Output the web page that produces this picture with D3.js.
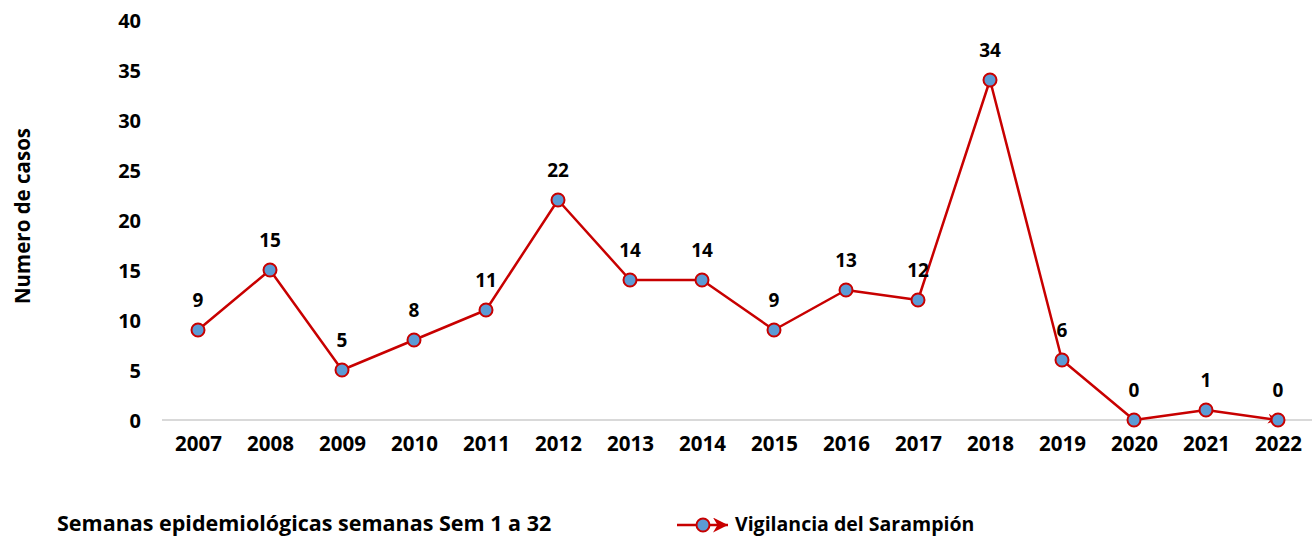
<!DOCTYPE html>
<html><head><meta charset="utf-8">
<script src="https://cdn.jsdelivr.net/npm/d3@7"></script>
<style>
body{margin:0;background:#fff;}
svg text{font-family:"Open Sans",sans-serif;font-weight:bold;fill:#000;}
</style></head>
<body><svg id="c" width="1314" height="538"></svg>
<script>
const years = ["2007","2008","2009","2010","2011","2012","2013","2014","2015","2016","2017","2018","2019","2020","2021","2022"];
const casos = [9,15,5,8,11,22,14,14,9,13,12,34,6,0,1,0];
const yTicks = [0,5,10,15,20,25,30,35,40];
const seriesName = "Vigilancia del Sarampión";
const yTitle = "Numero de casos";
const footNote = "Semanas epidemiológicas semanas Sem 1 a 32";

const svg = d3.select("#c");
const lineColor = "#C80000", dotFill = "#5B9BD5";
const x = d3.scalePoint().domain(years).range([198, 1278]);
const y = d3.scaleLinear().domain([0, 40]).range([420, 20]);

const defs = svg.append("defs");
defs.append("marker").attr("id","arr").attr("viewBox","0 0 10 10")
  .attr("refX",10).attr("refY",5).attr("markerWidth",4.5).attr("markerHeight",4)
  .attr("markerUnits","strokeWidth").attr("orient","auto")
  .append("path").attr("d","M0,0 L10,5 L0,10 L3,5 z").attr("fill",lineColor);
defs.append("marker").attr("id","arrL").attr("viewBox","0 0 10 10")
  .attr("refX",10).attr("refY",5).attr("markerWidth",6).attr("markerHeight",6)
  .attr("markerUnits","strokeWidth").attr("orient","auto")
  .append("path").attr("d","M0,0 L10,5 L0,10 L3,5 z").attr("fill",lineColor);

// baseline
svg.append("line").attr("x1",162).attr("x2",1312).attr("y1",y(0)).attr("y2",y(0))
  .attr("stroke","#d9d9d9").attr("stroke-width",2);

// y axis labels
const yAxis = d3.axisLeft(y).tickValues(yTicks).tickSize(0).tickPadding(0);
const gy = svg.append("g").attr("transform","translate(141,0)").call(yAxis);
gy.select(".domain").remove();
gy.selectAll("text").style("font-size","20px").attr("dy","0.35em");

// x axis labels
const xAxis = d3.axisBottom(x).tickSize(0).tickPadding(0);
const gx = svg.append("g").attr("transform","translate(0,436)").call(xAxis);
gx.select(".domain").remove();
gx.selectAll("text").style("font-size","20.5px").attr("dy","0.71em");

// line
const line = d3.line().x((d,i)=>x(years[i])).y(d=>y(d));
svg.append("path").datum(casos).attr("d",line).attr("fill","none")
  .attr("stroke",lineColor).attr("stroke-width",2.5).attr("stroke-linejoin","round")
  .attr("marker-end","url(#arr)");

// dots
svg.selectAll("circle.dot").data(casos).enter().append("circle").attr("class","dot")
  .attr("cx",(d,i)=>x(years[i])).attr("cy",d=>y(d)).attr("r",6.5)
  .attr("fill",dotFill).attr("stroke",lineColor).attr("stroke-width",2);

// data labels
svg.selectAll("text.lbl").data(casos).enter().append("text").attr("class","lbl")
  .attr("x",(d,i)=>x(years[i])).attr("y",d=>y(d)-30).attr("dy","0.35em")
  .attr("text-anchor","middle").style("font-size","19px").text(d=>d);

// y title
svg.append("text").attr("transform","translate(23,216) rotate(-90)").attr("dy","0.35em")
  .attr("text-anchor","middle").style("font-size","20.5px").text(yTitle);

// footnote
svg.append("text").attr("x",57).attr("y",531).style("font-size","21.5px").text(footNote);

// legend
const lg = svg.append("g");
lg.append("line").attr("x1",677).attr("x2",728).attr("y1",525).attr("y2",525)
  .attr("stroke",lineColor).attr("stroke-width",2.5).attr("marker-end","url(#arrL)");
lg.append("circle").attr("cx",703).attr("cy",525).attr("r",6.5)
  .attr("fill",dotFill).attr("stroke",lineColor).attr("stroke-width",2);
lg.append("text").attr("x",735).attr("y",531).style("font-size","19.5px").text(seriesName);
</script></body></html>
